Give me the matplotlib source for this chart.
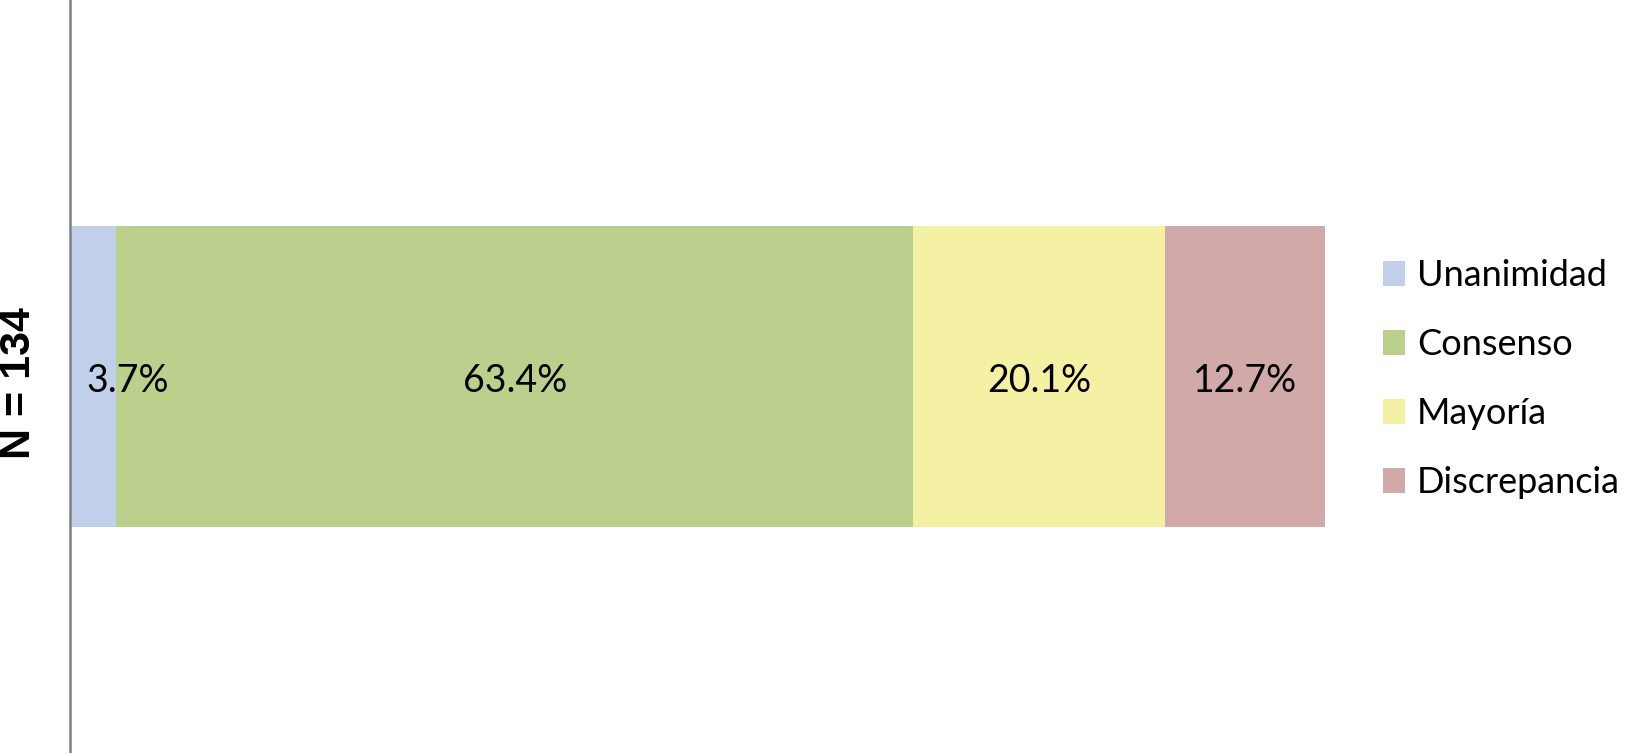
import matplotlib
matplotlib.use("Agg")
import matplotlib.pyplot as plt
from matplotlib.patches import Patch

categories = ["Unanimidad", "Consenso", "Mayoría", "Discrepancia"]
values = [3.7, 63.4, 20.1, 12.7]
labels = ["3.7%", "63.4%", "20.1%", "12.7%"]
colors = ["#C2CFEA", "#BCD08E", "#F5F1A4", "#D0A9A8"]
y_label = "N = 134"

fig = plt.figure(figsize=(16.25, 7.53), dpi=100)
ax = fig.add_axes([70 / 1625, 0.0, 1255 / 1625, 1.0])

left = 0.0
for cat, v, lab, c in zip(categories, values, labels, colors):
    ax.barh(0, v, left=left, height=1.0, color=c, label=cat)
    if v < 6:
        ax.annotate(lab, xy=(left + v * 0.35, 0), xytext=(0, -11),
                    textcoords="offset points", ha="left", va="baseline",
                    fontsize=27, family="Lato", color="black")
    else:
        ax.annotate(lab, xy=(left + v / 2, 0), xytext=(0, -11),
                    textcoords="offset points", ha="center", va="baseline",
                    fontsize=27, family="Lato", color="black")
    left += v

ax.set_xlim(0, sum(values))
ax.set_ylim(-1.25, 1.25)
for s in ["top", "right", "bottom"]:
    ax.spines[s].set_visible(False)
ax.spines["left"].set_color("#808080")
ax.spines["left"].set_linewidth(1.8)
ax.set_xticks([])
ax.set_yticks([])

fig.text(19 / 1625, 1 - 383 / 753, y_label, rotation=90, ha="center", va="center",
         fontsize=31, fontweight="bold", family="Liberation Sans")

handles = [Patch(facecolor=c, edgecolor="none") for c in colors]
fig.legend(handles, categories, loc="upper left",
           bbox_to_anchor=(1383 / 1625, 1 - 259 / 753),
           frameon=False, borderpad=0, borderaxespad=0,
           handlelength=0.61, handleheight=0.67, handletextpad=0.33,
           labelspacing=1.0, prop={"family": "Lato", "size": 26})

fig.savefig("out.png", dpi=100)
